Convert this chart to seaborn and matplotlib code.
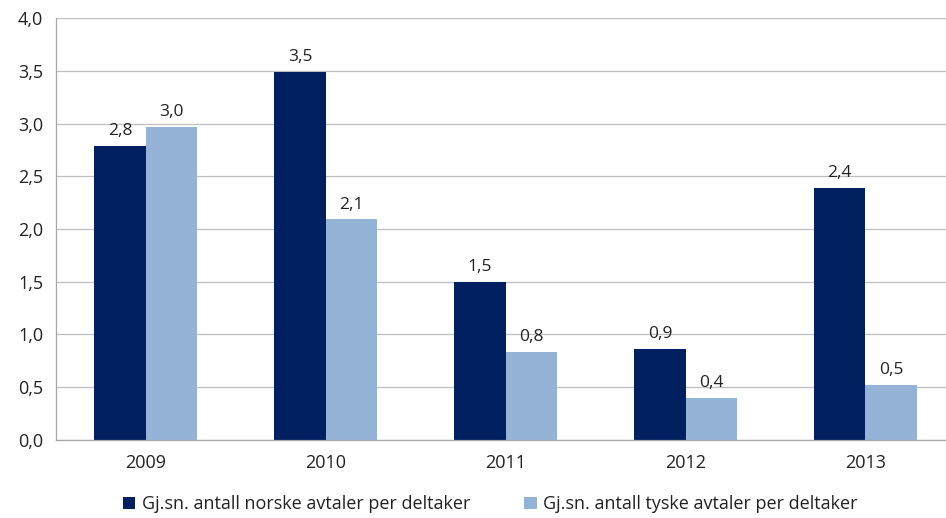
import pandas as pd
import matplotlib.pyplot as plt
import seaborn as sns
from matplotlib.ticker import FuncFormatter, FixedLocator

years = ["2009", "2010", "2011", "2012", "2013"]
norske = [2.79, 3.49, 1.50, 0.86, 2.39]
tyske = [2.97, 2.09, 0.83, 0.40, 0.52]
series = ["Gj.sn. antall norske avtaler per deltaker",
          "Gj.sn. antall tyske avtaler per deltaker"]

df = pd.DataFrame({
    "year": years * 2,
    "value": norske + tyske,
    "serie": [series[0]] * len(years) + [series[1]] * len(years),
})

sns.set_style("white")
plt.rcParams["font.family"] = ["Open Sans", "DejaVu Sans"]

fig = plt.figure(figsize=(9.46, 5.18), dpi=100)
# axes runs a little past the right edge, as in the original
ax = fig.add_axes([0.059, 0.151, 0.951, 0.814])

sns.barplot(data=df, x="year", y="value", hue="serie",
            palette=["#002060", "#95B3D7"], width=0.57, gap=0,
            saturation=1, ax=ax, errorbar=None, linewidth=0)

comma = lambda v: f"{v:.1f}".replace(".", ",")
for cont in ax.containers:
    ax.bar_label(cont, labels=[comma(b.get_height()) for b in cont],
                 padding=5, fontsize=12.5, color="#222222")

ax.set_ylim(0, 4)
ax.set_xlim(-0.5, 4.5)
ax.set_yticks([i * 0.5 for i in range(9)])
ax.yaxis.set_major_formatter(FuncFormatter(lambda v, p: comma(v)))
ax.yaxis.grid(True, color="#BFBFBF", linewidth=0.9)
ax.set_axisbelow(True)
ax.set_xlabel("")
ax.set_ylabel("")

for s in ["top", "right"]:
    ax.spines[s].set_visible(False)
for s in ["left", "bottom"]:
    ax.spines[s].set_color("#A6A6A6")
    ax.spines[s].set_linewidth(0.9)

ax.tick_params(axis="y", which="major", length=5, color="#A6A6A6",
               labelsize=13, labelcolor="#222222", pad=4)
ax.tick_params(axis="x", which="major", length=0, labelsize=13,
               labelcolor="#222222", pad=10)
ax.xaxis.set_minor_locator(FixedLocator([i + 0.5 for i in range(-1, 5)]))
ax.tick_params(axis="x", which="minor", length=6, color="#A6A6A6")

handles, labels = ax.get_legend_handles_labels()
ax.get_legend().remove()
fig.legend(handles, labels, loc="upper center", bbox_to_anchor=(0.518, 0.075),
           ncol=2, frameon=False, fontsize=13, handlelength=0.7,
           handleheight=0.7, handletextpad=0.35, columnspacing=3.0,
           labelcolor="#222222")

plt.savefig("out.png", dpi=100)
